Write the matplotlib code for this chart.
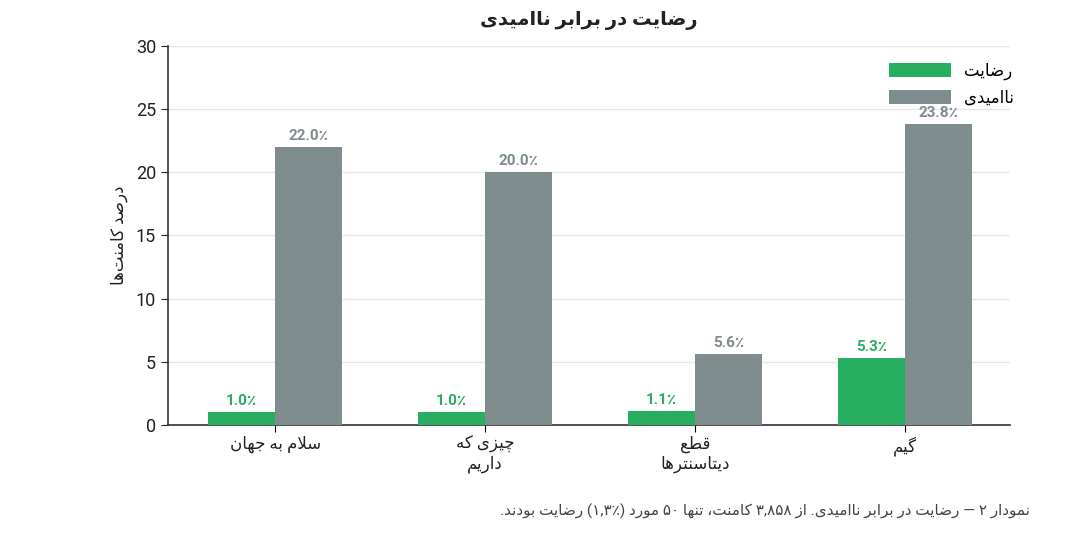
import matplotlib
matplotlib.use("Agg")
import matplotlib.pyplot as plt
import numpy as np
import re

# data
categories = ["سلام به جهان", "چیزی که\nداریم", "قطع\nدیتاسنترها", "گیم"]
satisfied = [1.0, 1.0, 1.1, 5.3]
frustrated = [22.0, 20.0, 5.6, 23.8]
series_names = ["رضایت", "ناامیدی"]
title_txt = "رضایت در برابر ناامیدی"
ylabel_txt = "درصد کامنت\u200cها"
caption_txt = "نمودار ۲ — رضایت در برابر ناامیدی. از ۳,۸۵۸ کامنت، تنها ۵۰ مورد (۱,۳٪) رضایت بودند."

GREEN = "#27ae60"
GRAY = "#7f8c8d"

# matplotlib has no arabic shaping, so do a small one by hand
# letter: (isolated, final, initial, medial) ; 2-tuple = only joins to the right
FORMS = {
    "ا": (0xFE8D, 0xFE8E), "آ": (0xFE81, 0xFE82),
    "ب": (0xFE8F, 0xFE90, 0xFE91, 0xFE92), "پ": (0xFB56, 0xFB57, 0xFB58, 0xFB59),
    "ت": (0xFE95, 0xFE96, 0xFE97, 0xFE98), "ث": (0xFE99, 0xFE9A, 0xFE9B, 0xFE9C),
    "ج": (0xFE9D, 0xFE9E, 0xFE9F, 0xFEA0), "چ": (0xFB7A, 0xFB7B, 0xFB7C, 0xFB7D),
    "ح": (0xFEA1, 0xFEA2, 0xFEA3, 0xFEA4), "خ": (0xFEA5, 0xFEA6, 0xFEA7, 0xFEA8),
    "د": (0xFEA9, 0xFEAA), "ذ": (0xFEAB, 0xFEAC), "ر": (0xFEAD, 0xFEAE),
    "ز": (0xFEAF, 0xFEB0), "ژ": (0xFB8A, 0xFB8B),
    "س": (0xFEB1, 0xFEB2, 0xFEB3, 0xFEB4), "ش": (0xFEB5, 0xFEB6, 0xFEB7, 0xFEB8),
    "ص": (0xFEB9, 0xFEBA, 0xFEBB, 0xFEBC), "ض": (0xFEBD, 0xFEBE, 0xFEBF, 0xFEC0),
    "ط": (0xFEC1, 0xFEC2, 0xFEC3, 0xFEC4), "ظ": (0xFEC5, 0xFEC6, 0xFEC7, 0xFEC8),
    "ع": (0xFEC9, 0xFECA, 0xFECB, 0xFECC), "غ": (0xFECD, 0xFECE, 0xFECF, 0xFED0),
    "ف": (0xFED1, 0xFED2, 0xFED3, 0xFED4), "ق": (0xFED5, 0xFED6, 0xFED7, 0xFED8),
    "ک": (0xFB8E, 0xFB8F, 0xFB90, 0xFB91), "گ": (0xFB92, 0xFB93, 0xFB94, 0xFB95),
    "ل": (0xFEDD, 0xFEDE, 0xFEDF, 0xFEE0), "م": (0xFEE1, 0xFEE2, 0xFEE3, 0xFEE4),
    "ن": (0xFEE5, 0xFEE6, 0xFEE7, 0xFEE8), "و": (0xFEED, 0xFEEE),
    "ه": (0xFEE9, 0xFEEA, 0xFEEB, 0xFEEC), "ی": (0xFBFC, 0xFBFD, 0xFBFE, 0xFBFF),
    "ئ": (0xFE89, 0xFE8A, 0xFE8B, 0xFE8C),
}


def shape(s):
    out = []
    i = 0
    n = len(s)
    while i < n:
        c = s[i]
        if c not in FORMS:
            if c != "\u200c":
                out.append(c)
            i += 1
            continue
        prev = s[i - 1] if i > 0 else ""
        jp = prev in FORMS and len(FORMS[prev]) == 4
        if c == "ل" and i + 1 < n and s[i + 1] == "ا":
            out.append(chr(0xFEFC if jp else 0xFEFB))
            i += 2
            continue
        nxt = s[i + 1] if i + 1 < n else ""
        jn = len(FORMS[c]) == 4 and nxt in FORMS
        f = FORMS[c]
        if jp and jn:
            out.append(chr(f[3]))
        elif jp:
            out.append(chr(f[1]))
        elif jn:
            out.append(chr(f[2]))
        else:
            out.append(chr(f[0]))
        i += 1
    return "".join(out)


def fa(s):
    lines = []
    for line in s.split("\n"):
        sh = shape(line)
        toks = re.findall(r"[0-9۰-۹][0-9۰-۹,.٫٪%]*|.", sh)
        mirror = {"(": ")", ")": "("}
        toks = [mirror.get(t, t) for t in toks[::-1]]
        lines.append("".join(toks))
    return "\n".join(lines)


plt.rcParams["font.family"] = ["Roboto", "DejaVu Sans"]

fig = plt.figure(figsize=(10.8, 5.39), dpi=100)
ax = fig.add_axes([0.1556, 0.2115, 0.7794, 0.7032])

x = np.arange(len(categories))
w = 0.32
b1 = ax.bar(x - w / 2, satisfied, w, color=GREEN, label=fa(series_names[0]), zorder=3)
b2 = ax.bar(x + w / 2, frustrated, w, color=GRAY, label=fa(series_names[1]), zorder=3)

for bars, vals, col in [(b1, satisfied, GREEN), (b2, frustrated, GRAY)]:
    for r, v in zip(bars, vals):
        ax.annotate(f"{v:.1f}٪", (r.get_x() + r.get_width() / 2, r.get_height()),
                    xytext=(0, 3), textcoords="offset points", ha="center", va="bottom",
                    color=col, fontsize=11, fontweight="bold")

ax.set_xlim(-0.51, 3.5)
ax.set_ylim(0, 30)
ax.set_yticks(range(0, 31, 5))
ax.set_xticks(x)
ax.set_xticklabels([fa(c) for c in categories], fontsize=12, color="#222222")
ax.tick_params(axis="y", labelsize=13, colors="#222222", length=5)
ax.tick_params(axis="x", length=5, pad=3)
ax.yaxis.grid(True, color="#e6e6e6", linewidth=1, zorder=0)
ax.set_axisbelow(True)
for s in ["top", "right"]:
    ax.spines[s].set_visible(False)
for s in ["left", "bottom"]:
    ax.spines[s].set_color("#333333")
    ax.spines[s].set_linewidth(1.2)

ax.set_ylabel(fa(ylabel_txt), fontsize=12, color="#222222", labelpad=6)
ax.set_title(fa(title_txt), fontsize=14, fontweight="bold", color="#222222", pad=15)

ax.legend(loc="upper right", bbox_to_anchor=(1.025, 1.0), frameon=False, fontsize=12,
          handlelength=3.7, handleheight=0.9, borderaxespad=0.6, labelspacing=0.6)

fig.text(0.954, 0.052, fa(caption_txt), ha="right", va="center", fontsize=11,
         color="#444444")

fig.savefig("out.png", dpi=100)
